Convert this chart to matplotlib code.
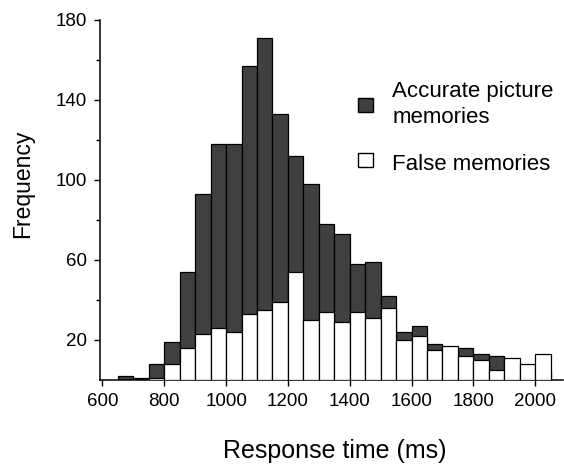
import matplotlib
matplotlib.use("Agg")
import matplotlib.pyplot as plt
from matplotlib.patches import Rectangle

plt.rcParams['font.family'] = ['Liberation Sans', 'DejaVu Sans']

bin_edges = [650, 700, 750, 800, 850, 900, 950, 1000, 1050, 1100, 1150, 1200, 1250, 1300,
             1350, 1400, 1450, 1500, 1550, 1600, 1650, 1700, 1750, 1800, 1850, 1900, 1950, 2000]
accurate = [2, 1, 8, 19, 54, 93, 118, 118, 157, 171, 133, 112, 98, 78,
            73, 58, 59, 42, 24, 27, 18, 15, 16, 13, 12, 8, 5, 4]
false_mem = [0, 0, 1, 8, 16, 23, 26, 24, 33, 35, 39, 54, 30, 34,
             29, 34, 31, 36, 20, 22, 15, 17, 12, 10, 5, 11, 8, 13]
bin_width = 50
xticks = [600, 800, 1000, 1200, 1400, 1600, 1800, 2000]
yticks = [20, 60, 100, 140, 180]
yminor = [40, 80, 120, 160]
legend_labels = ['Accurate picture', 'memories', 'False memories']

W, H = 564, 466
fig = plt.figure(figsize=(W / 100, H / 100), dpi=100)
ax = fig.add_axes([100/W, 1 - 380/H, 463/W, 360/H])

dark = '#404040'
ax.bar(bin_edges, accurate, width=bin_width, align='edge', color=dark,
       edgecolor='black', linewidth=0.9, zorder=2)
ax.bar(bin_edges, false_mem, width=bin_width, align='edge', color='white',
       edgecolor='black', linewidth=0.9, zorder=3)

ax.set_xlim(592, 2090)
ax.set_ylim(0, 180)
ax.set_xticks(xticks)
ax.set_yticks(yticks)
ax.set_yticks(yminor, minor=True)
ax.tick_params(axis='both', which='major', direction='out', length=4.5, width=1,
               labelsize=13.5, pad=5)
ax.tick_params(axis='y', which='minor', direction='out', length=3, width=1)
for s in ['top', 'right']:
    ax.spines[s].set_visible(False)
for s in ['left', 'bottom']:
    ax.spines[s].set_linewidth(1.1)

ax.set_xlabel('Response time (ms)', fontsize=18)
ax.xaxis.set_label_coords(0.5076, -0.163)
ax.set_ylabel('Frequency', fontsize=16.5)
ax.yaxis.set_label_coords(-0.143, 0.544)

# legend (drawn manually in figure pixel coordinates)
def fx(px):
    return px / W

def fy(py):
    return 1 - py / H

fig.patches.append(Rectangle((fx(358), fy(112)), 15 / W, 14 / H, transform=fig.transFigure,
                             facecolor=dark, edgecolor='black', linewidth=1.0))
fig.patches.append(Rectangle((fx(358), fy(167)), 15 / W, 14 / H, transform=fig.transFigure,
                             facecolor='white', edgecolor='black', linewidth=1.0))
fig.text(fx(392.5), fy(96.7), legend_labels[0], fontsize=16, va='baseline', ha='left')
fig.text(fx(392.5), fy(123.3), legend_labels[1], fontsize=16, va='baseline', ha='left')
fig.text(fx(392.5), fy(170), legend_labels[2], fontsize=16, va='baseline', ha='left')

fig.savefig('out.png', dpi=100)
